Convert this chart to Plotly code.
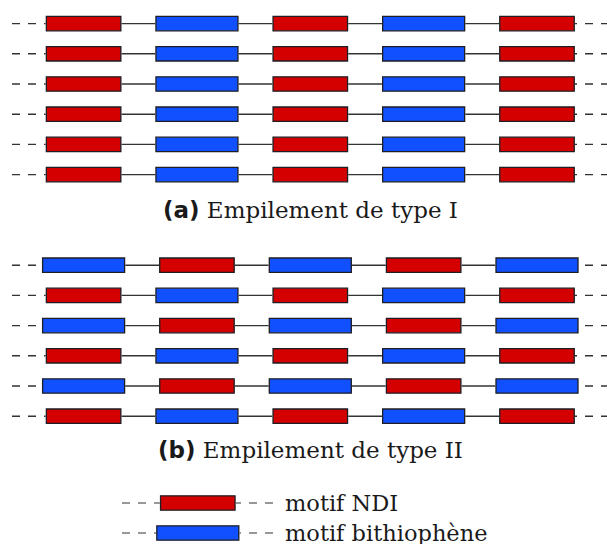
import plotly.graph_objects as go

# ---------------- data ----------------
motif_keys = ["NDI", "bithiophene"]
motif_labels = ["motif NDI", "motif bithiophène"]
motif_lengths = [74.5, 82]          # length of each motif along the chain
units_per_chain = 5
stack_I_first_motif = ["NDI", "NDI", "NDI", "NDI", "NDI", "NDI"]
stack_II_first_motif = ["bithiophene", "NDI", "bithiophene", "NDI", "bithiophene", "NDI"]
caption_tags = ["(a)", "(b)"]
caption_texts = ["Empilement de type I", "Empilement de type II"]

# ---------------- layout / style constants ----------------
W, H = 607, 544
FIRST_CENTER = 83.6
PITCH = 113.35
DASH_LEFT = 12
DASH_RIGHT = 609
ROW_PITCH = 30.2
STACK_TOPS = [23.6, 265.2]
CAPTION_Y = [210, 450]
LEGEND_Y = [503, 533]
LEGEND_CENTER = 197.8
LEGEND_DASH_LEFT = 122
LEGEND_DASH_RIGHT = 273
BAR_THICK = 14.4
COLORS = {"NDI": "#d40000", "bithiophene": "#1050ff"}
EDGE = "#1e1e24"
LINE = "#333333"
TEXT = "#1a1a1a"
SERIF = "DejaVu Serif"
SANS = "DejaVu Sans"

length_of = dict(zip(motif_keys, motif_lengths))
other = {"NDI": "bithiophene", "bithiophene": "NDI"}

rects = {k: {"base": [], "len": [], "y": []} for k in motif_keys}
solid_x, solid_y = [], []
dash_x, dash_y = [], []

def chain(first, yc):
    m = first
    edges = []
    for u in range(units_per_chain):
        c = FIRST_CENTER + u * PITCH
        L = length_of[m]
        rects[m]["base"].append(c - L / 2)
        rects[m]["len"].append(L)
        rects[m]["y"].append(yc)
        edges.append((c - L / 2 - 0.7, c + L / 2 + 0.7))
        m = other[m]
    for (a0, a1), (b0, b1) in zip(edges[:-1], edges[1:]):
        solid_x.extend([a1, b0, None]); solid_y.extend([yc, yc, None])
    dash_x.extend([DASH_LEFT, edges[0][0], None]); dash_y.extend([yc, yc, None])
    dash_x.extend([DASH_RIGHT, edges[-1][1], None]); dash_y.extend([yc, yc, None])

for top, firsts in zip(STACK_TOPS, [stack_I_first_motif, stack_II_first_motif]):
    for i, f in enumerate(firsts):
        chain(f, top + i * ROW_PITCH)

# legend
leg_dash_x, leg_dash_y = [], []
for k, yl in zip(motif_keys, LEGEND_Y):
    L = length_of[k]
    rects[k]["base"].append(LEGEND_CENTER - L / 2)
    rects[k]["len"].append(L)
    rects[k]["y"].append(yl)
    leg_dash_x.extend([LEGEND_DASH_LEFT, LEGEND_CENTER - L / 2 - 0.7, None]); leg_dash_y.extend([yl, yl, None])
    leg_dash_x.extend([LEGEND_DASH_RIGHT, LEGEND_CENTER + L / 2 + 0.7, None]); leg_dash_y.extend([yl, yl, None])

fig = go.Figure()
fig.add_trace(go.Scatter(x=solid_x, y=solid_y, mode="lines",
                         line=dict(color=LINE, width=1.4), hoverinfo="skip", showlegend=False))
fig.add_trace(go.Scatter(x=dash_x, y=dash_y, mode="lines",
                         line=dict(color=LINE, width=1.4, dash="8px,8px"), hoverinfo="skip", showlegend=False))
fig.add_trace(go.Scatter(x=leg_dash_x, y=leg_dash_y, mode="lines",
                         line=dict(color=LINE, width=1.2, dash="8px,8px"), hoverinfo="skip", showlegend=False))
for k in motif_keys:
    fig.add_trace(go.Bar(orientation="h", base=rects[k]["base"], x=rects[k]["len"], y=rects[k]["y"],
                         width=BAR_THICK, marker=dict(color=COLORS[k], line=dict(color=EDGE, width=1.3)),
                         hoverinfo="skip", showlegend=False))

for tag, txt, yc in zip(caption_tags, caption_texts, CAPTION_Y):
    fig.add_annotation(x=310, y=yc, xref="x", yref="y", showarrow=False, xanchor="center", yanchor="middle",
                       text=f"<span style=\"font-family:'{SANS}';font-weight:bold\">{tag}</span> {txt}",
                       font=dict(family=SERIF, size=23, color=TEXT))
for lab, yl in zip(motif_labels, LEGEND_Y):
    fig.add_annotation(x=283, y=yl, xref="x", yref="y", showarrow=False, xanchor="left", yanchor="middle",
                       text=lab, font=dict(family=SERIF, size=22.5, color=TEXT))

fig.update_layout(width=W, height=H, margin=dict(l=0, r=0, t=0, b=0),
                  paper_bgcolor="white", plot_bgcolor="white", barmode="overlay",
                  xaxis=dict(range=[0, W], visible=False, fixedrange=True),
                  yaxis=dict(range=[H, 0], visible=False, fixedrange=True))
fig.write_html("out.html", config={"displayModeBar": False},
               post_script="document.body.style.margin='0';document.body.style.padding='0';"
                           "document.body.style.overflow='hidden';")
